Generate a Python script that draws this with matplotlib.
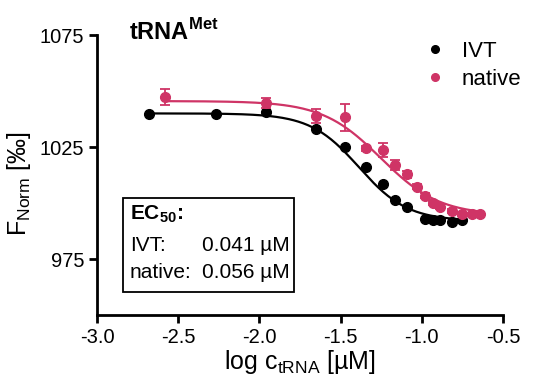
import numpy as np
import matplotlib
matplotlib.use("Agg")
import matplotlib.pyplot as plt
from matplotlib.lines import Line2D
from matplotlib.patches import Rectangle

plt.rcParams['font.family'] = ['Liberation Sans', 'DejaVu Sans']
plt.rcParams['mathtext.fontset'] = 'custom'
plt.rcParams['mathtext.rm'] = 'Liberation Sans'
plt.rcParams['mathtext.bf'] = 'Liberation Sans:bold'

# data
ivt_logc = [-2.68, -2.27, -1.96, -1.65, -1.47, -1.346, -1.24, -1.163, -1.09,
            -0.979, -0.932, -0.891, -0.815, -0.754]
ivt_f = [1039.6, 1039.6, 1040.5, 1032.9, 1025.1, 1015.9, 1008.3, 1001.3, 998.3,
         992.9, 992.4, 992.4, 991.7, 992.4]

nat_logc = [-2.58, -1.96, -1.65, -1.47, -1.346, -1.24, -1.163, -1.09, -1.03,
            -0.979, -0.932, -0.891, -0.815, -0.754, -0.69, -0.641]
nat_f = [1047.5, 1044.5, 1038.8, 1038.3, 1024.4, 1023.7, 1017.0, 1012.8, 1007.3,
         1003.3, 1000.1, 998.1, 996.4, 995.0, 995.0, 995.1]
nat_err = [3.6, 2.2, 3.1, 6.0, 1.2, 3.0, 2.2, 1.5, 1.0,
           1.0, 0.8, 0.8, 0.8, 0.8, 0.6, 0.6]

# dose-response fit parameters (top, bottom, logEC50, hill)
ivt_fit = (1040.0, 992.0, np.log10(0.041), 2.9)
nat_fit = (1045.5, 994.5, np.log10(0.056), 2.4)

ec50_names = ['IVT:', 'native:']
ec50_vals = ['0.041 µM', '0.056 µM']

pink = '#cf3466'


def curve(x, top, bottom, logec, hill):
    return bottom + (top - bottom) / (1 + 10 ** ((x - logec) * hill))


fig = plt.figure(figsize=(5.37, 3.83), dpi=100)
ax = fig.add_axes([0.1806, 0.1775, 0.7561, 0.7311])

xs = np.linspace(min(ivt_logc), max(ivt_logc), 200)
ax.plot(xs, curve(xs, *ivt_fit), color='black', lw=1.6, zorder=2)
xs = np.linspace(min(nat_logc), max(nat_logc), 200)
ax.plot(xs, curve(xs, *nat_fit), color=pink, lw=1.6, zorder=2)

ax.plot(ivt_logc, ivt_f, 'o', color='black', ms=7, zorder=3)
ax.errorbar(nat_logc, nat_f, yerr=nat_err, fmt='o', color=pink, ms=7,
            elinewidth=1.3, capsize=3.5, capthick=1.3, zorder=3)

ax.set_xlim(-3.0, -0.5)
ax.set_ylim(950, 1075)
ax.set_xticks([-3.0, -2.5, -2.0, -1.5, -1.0, -0.5])
ax.set_xticklabels(['-3.0', '-2.5', '-2.0', '-1.5', '-1.0', '-0.5'])
ax.set_yticks([975, 1025, 1075])

for s in ['top', 'right']:
    ax.spines[s].set_visible(False)
for s in ['left', 'bottom']:
    ax.spines[s].set_linewidth(2)
ax.tick_params(width=2, length=6, labelsize=14.5, pad=3)

ax.set_xlabel(r'log c$_{\mathregular{tRNA}}$ [µM]', fontsize=18, labelpad=1)
ax.set_ylabel(r'F$_{\mathregular{Norm}}$ [‰]', fontsize=18, labelpad=2)
ax.yaxis.set_label_coords(-0.157, 0.47)

ax.text(0.08, 1.01, r'$\mathbf{tRNA}^{\mathbf{Met}}$', transform=ax.transAxes,
        fontsize=17, va='center', ha='left')

handles = [Line2D([], [], ls='', marker='o', color='black', ms=5.5),
           Line2D([], [], ls='', marker='o', color=pink, ms=5.5)]
ax.legend(handles, ['IVT', 'native'], loc='upper right',
          bbox_to_anchor=(1.095, 1.05), frameon=False,
          fontsize=16, handletextpad=0.6, handlelength=1.2, labelspacing=0.3)

# EC50 box
ax.add_patch(Rectangle((0.064, 0.082), 0.421, 0.336, transform=ax.transAxes,
                       fc='white', ec='black', lw=1.3, zorder=4))
ax.text(0.081, 0.36, r'EC$_{\mathbf{50}}$:', transform=ax.transAxes,
        fontsize=15, fontweight='bold', va='center', ha='left', zorder=5)
for i, (name, val) in enumerate(zip(ec50_names, ec50_vals)):
    y = 0.25 - i * 0.097
    ax.text(0.081, y, name, transform=ax.transAxes, fontsize=15,
            va='center', ha='left', zorder=5)
    ax.text(0.474, y, val, transform=ax.transAxes, fontsize=15,
            va='center', ha='right', zorder=5)

fig.savefig('out.png', dpi=100)
